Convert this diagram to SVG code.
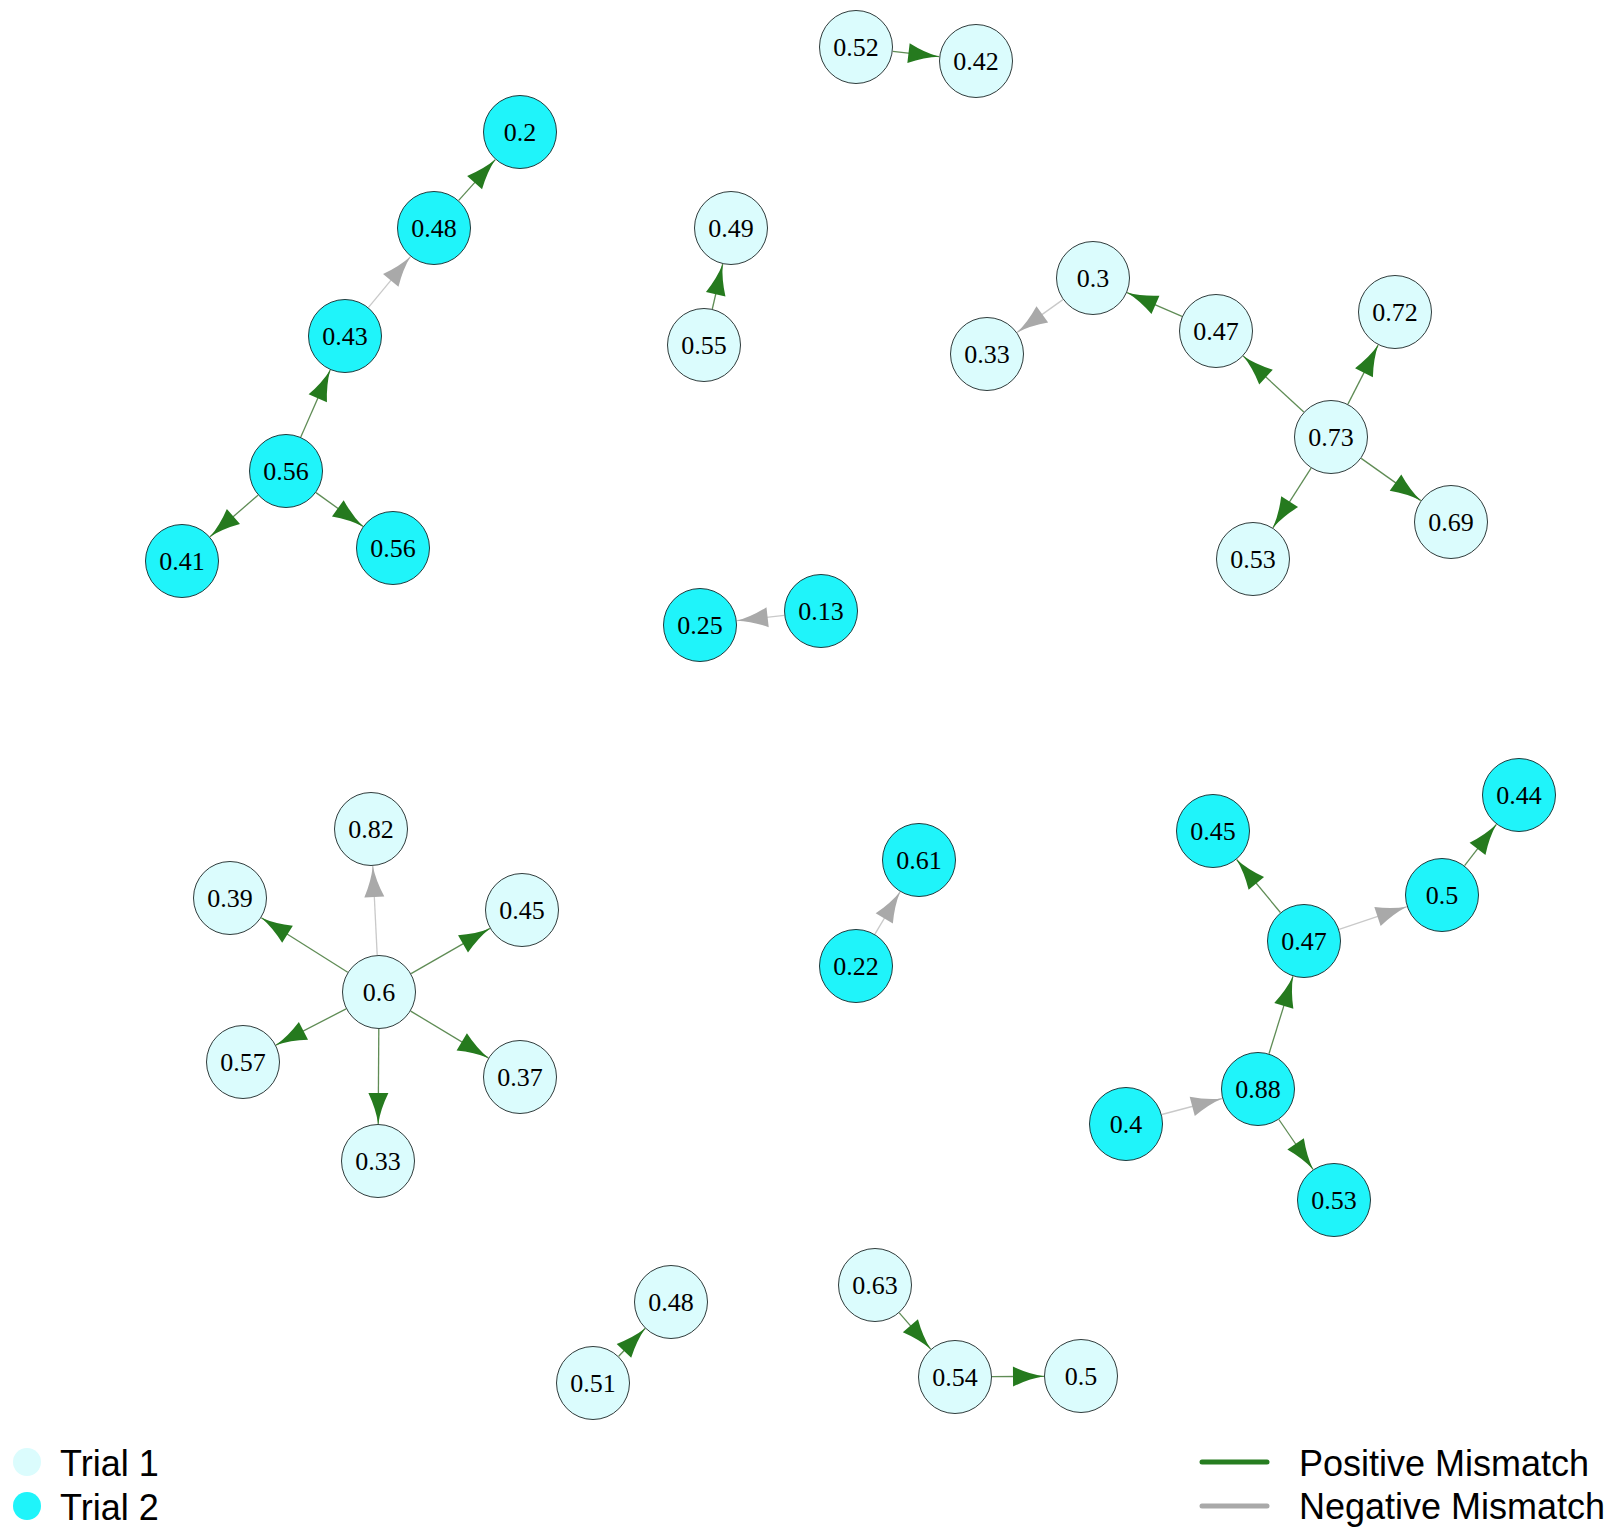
<svg xmlns="http://www.w3.org/2000/svg" width="1609" height="1535" viewBox="0 0 1609 1535">
<style>
.n1 circle{fill:#dbfcfd;stroke:#2f3b3b;stroke-width:1}
.n2 circle{fill:#1ff4fa;stroke:#1f3b3d;stroke-width:1}
.node text{font-family:"Liberation Serif","Times New Roman",serif;font-size:26px;fill:#000;text-anchor:middle}
.pos{stroke:#5f8c55;stroke-width:1.3;fill:none;marker-end:url(#ap)}
.neg{stroke:#c9c9c9;stroke-width:1.3;fill:none;marker-end:url(#an)}
.leg{font-family:"Liberation Sans",Arial,sans-serif;font-size:36px;fill:#000}
</style>
<defs>
<marker id="ap" markerUnits="userSpaceOnUse" markerWidth="33" markerHeight="21" refX="32" refY="10.5" orient="auto" viewBox="0 0 33 21">
<path d="M32,10.5 Q17,8.2 1,0.5 L1,20.5 Q17,12.8 32,10.5 Z" fill="#257a1e"/>
</marker>
<marker id="an" markerUnits="userSpaceOnUse" markerWidth="33" markerHeight="21" refX="32" refY="10.5" orient="auto" viewBox="0 0 33 21">
<path d="M32,10.5 Q17,8.2 1,0.5 L1,20.5 Q17,12.8 32,10.5 Z" fill="#a9a9a9"/>
</marker>
</defs>
<g id="edges">
<line class="pos" x1="892.8" y1="51.3" x2="939.3" y2="56.7"/>
<line class="pos" x1="258.0" y1="495.2" x2="210.0" y2="536.8"/>
<line class="pos" x1="316.0" y1="492.6" x2="363.0" y2="526.4"/>
<line class="pos" x1="300.8" y1="437.1" x2="330.2" y2="369.9"/>
<line class="neg" x1="368.5" y1="307.4" x2="410.5" y2="256.6"/>
<line class="pos" x1="458.7" y1="200.4" x2="495.3" y2="159.6"/>
<line class="pos" x1="712.3" y1="309.0" x2="722.7" y2="264.0"/>
<line class="neg" x1="1062.9" y1="299.6" x2="1017.1" y2="332.4"/>
<line class="pos" x1="1182.0" y1="316.4" x2="1127.0" y2="292.6"/>
<line class="pos" x1="1303.8" y1="411.9" x2="1243.2" y2="356.1"/>
<line class="pos" x1="1347.9" y1="404.1" x2="1378.1" y2="345.1"/>
<line class="pos" x1="1361.2" y1="458.4" x2="1420.8" y2="500.6"/>
<line class="pos" x1="1311.1" y1="468.2" x2="1272.9" y2="527.8"/>
<line class="neg" x1="784.2" y1="615.3" x2="736.8" y2="620.7"/>
<line class="neg" x1="377.2" y1="955.0" x2="372.8" y2="866.0"/>
<line class="pos" x1="347.7" y1="972.3" x2="261.3" y2="917.7"/>
<line class="pos" x1="411.1" y1="973.6" x2="489.9" y2="928.4"/>
<line class="pos" x1="346.1" y1="1008.9" x2="275.9" y2="1045.1"/>
<line class="pos" x1="410.7" y1="1011.1" x2="488.3" y2="1057.9"/>
<line class="pos" x1="378.8" y1="1029.0" x2="378.2" y2="1124.0"/>
<line class="neg" x1="874.9" y1="934.2" x2="900.1" y2="891.8"/>
<line class="pos" x1="1280.4" y1="912.5" x2="1236.6" y2="859.5"/>
<line class="neg" x1="1339.1" y1="929.3" x2="1406.9" y2="906.7"/>
<line class="pos" x1="1464.6" y1="865.7" x2="1496.4" y2="824.3"/>
<line class="pos" x1="1269.0" y1="1053.7" x2="1293.0" y2="976.3"/>
<line class="neg" x1="1161.8" y1="1114.5" x2="1222.2" y2="1098.5"/>
<line class="pos" x1="1278.9" y1="1119.5" x2="1313.1" y2="1169.5"/>
<line class="pos" x1="618.7" y1="1356.3" x2="645.3" y2="1328.3"/>
<line class="pos" x1="899.3" y1="1312.9" x2="930.7" y2="1349.1"/>
<line class="pos" x1="992.0" y1="1376.7" x2="1044.0" y2="1376.3"/>
</g>
<g id="nodes">
<g id="n1" class="node n1"><circle cx="856" cy="47" r="36.5"/><text x="856" y="56">0.52</text></g>
<g id="n2" class="node n1"><circle cx="976" cy="61" r="36.5"/><text x="976" y="70">0.42</text></g>
<g id="n3" class="node n2"><circle cx="520" cy="132" r="36.5"/><text x="520" y="141">0.2</text></g>
<g id="n4" class="node n2"><circle cx="434" cy="228" r="36.5"/><text x="434" y="237">0.48</text></g>
<g id="n5" class="node n2"><circle cx="345" cy="336" r="36.5"/><text x="345" y="345">0.43</text></g>
<g id="n6" class="node n2"><circle cx="286" cy="471" r="36.5"/><text x="286" y="480">0.56</text></g>
<g id="n7" class="node n2"><circle cx="182" cy="561" r="36.5"/><text x="182" y="570">0.41</text></g>
<g id="n8" class="node n2"><circle cx="393" cy="548" r="36.5"/><text x="393" y="557">0.56</text></g>
<g id="n9" class="node n1"><circle cx="731" cy="228" r="36.5"/><text x="731" y="237">0.49</text></g>
<g id="n10" class="node n1"><circle cx="704" cy="345" r="36.5"/><text x="704" y="354">0.55</text></g>
<g id="n11" class="node n1"><circle cx="1093" cy="278" r="36.5"/><text x="1093" y="287">0.3</text></g>
<g id="n12" class="node n1"><circle cx="987" cy="354" r="36.5"/><text x="987" y="363">0.33</text></g>
<g id="n13" class="node n1"><circle cx="1216" cy="331" r="36.5"/><text x="1216" y="340">0.47</text></g>
<g id="n14" class="node n1"><circle cx="1395" cy="312" r="36.5"/><text x="1395" y="321">0.72</text></g>
<g id="n15" class="node n1"><circle cx="1331" cy="437" r="36.5"/><text x="1331" y="446">0.73</text></g>
<g id="n16" class="node n1"><circle cx="1451" cy="522" r="36.5"/><text x="1451" y="531">0.69</text></g>
<g id="n17" class="node n1"><circle cx="1253" cy="559" r="36.5"/><text x="1253" y="568">0.53</text></g>
<g id="n18" class="node n2"><circle cx="700" cy="625" r="36.5"/><text x="700" y="634">0.25</text></g>
<g id="n19" class="node n2"><circle cx="821" cy="611" r="36.5"/><text x="821" y="620">0.13</text></g>
<g id="n20" class="node n1"><circle cx="371" cy="829" r="36.5"/><text x="371" y="838">0.82</text></g>
<g id="n21" class="node n1"><circle cx="230" cy="898" r="36.5"/><text x="230" y="907">0.39</text></g>
<g id="n22" class="node n1"><circle cx="522" cy="910" r="36.5"/><text x="522" y="919">0.45</text></g>
<g id="n23" class="node n1"><circle cx="379" cy="992" r="36.5"/><text x="379" y="1001">0.6</text></g>
<g id="n24" class="node n1"><circle cx="243" cy="1062" r="36.5"/><text x="243" y="1071">0.57</text></g>
<g id="n25" class="node n1"><circle cx="520" cy="1077" r="36.5"/><text x="520" y="1086">0.37</text></g>
<g id="n26" class="node n1"><circle cx="378" cy="1161" r="36.5"/><text x="378" y="1170">0.33</text></g>
<g id="n27" class="node n2"><circle cx="919" cy="860" r="36.5"/><text x="919" y="869">0.61</text></g>
<g id="n28" class="node n2"><circle cx="856" cy="966" r="36.5"/><text x="856" y="975">0.22</text></g>
<g id="n29" class="node n2"><circle cx="1213" cy="831" r="36.5"/><text x="1213" y="840">0.45</text></g>
<g id="n30" class="node n2"><circle cx="1519" cy="795" r="36.5"/><text x="1519" y="804">0.44</text></g>
<g id="n31" class="node n2"><circle cx="1442" cy="895" r="36.5"/><text x="1442" y="904">0.5</text></g>
<g id="n32" class="node n2"><circle cx="1304" cy="941" r="36.5"/><text x="1304" y="950">0.47</text></g>
<g id="n33" class="node n2"><circle cx="1258" cy="1089" r="36.5"/><text x="1258" y="1098">0.88</text></g>
<g id="n34" class="node n2"><circle cx="1126" cy="1124" r="36.5"/><text x="1126" y="1133">0.4</text></g>
<g id="n35" class="node n2"><circle cx="1334" cy="1200" r="36.5"/><text x="1334" y="1209">0.53</text></g>
<g id="n36" class="node n1"><circle cx="671" cy="1302" r="36.5"/><text x="671" y="1311">0.48</text></g>
<g id="n37" class="node n1"><circle cx="593" cy="1383" r="36.5"/><text x="593" y="1392">0.51</text></g>
<g id="n38" class="node n1"><circle cx="875" cy="1285" r="36.5"/><text x="875" y="1294">0.63</text></g>
<g id="n39" class="node n1"><circle cx="955" cy="1377" r="36.5"/><text x="955" y="1386">0.54</text></g>
<g id="n40" class="node n1"><circle cx="1081" cy="1376" r="36.5"/><text x="1081" y="1385">0.5</text></g>
</g>
<g id="legend">
<circle cx="27" cy="1462" r="14" fill="#dbfcfd"/>
<circle cx="27" cy="1506" r="14" fill="#1ff4fa"/>
<text class="leg" x="60" y="1476">Trial 1</text>
<text class="leg" x="60" y="1520">Trial 2</text>
<line x1="1202" y1="1462" x2="1267" y2="1462" stroke="#267d20" stroke-width="5" stroke-linecap="round"/>
<line x1="1202" y1="1506" x2="1267" y2="1506" stroke="#a9a9a9" stroke-width="5" stroke-linecap="round"/>
<text class="leg" x="1299" y="1476">Positive Mismatch</text>
<text class="leg" x="1299" y="1519">Negative Mismatch</text>
</g>
</svg>
